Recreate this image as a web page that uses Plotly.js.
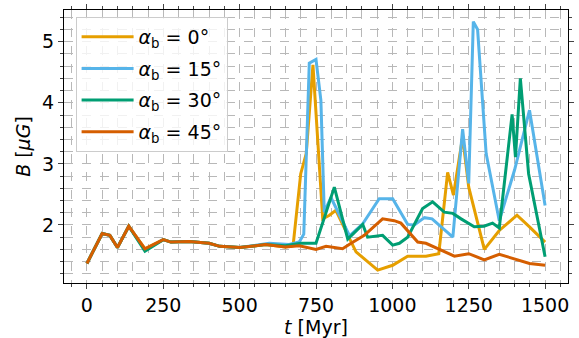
<!DOCTYPE html>
<html><head><meta charset="utf-8">
<script src="https://cdn.plot.ly/plotly-3.0.1.min.js"></script>
<style>html,body{margin:0;padding:0;background:#fff}#chart{width:579px;height:338px}</style>
</head><body><div id="chart"></div>
<script>
const t0 = [0,50,75,100,137,190,250,275,335,400,435,500,585,650,675,700,718,740,772,794,815,881,952,1001,1050,1110,1152,1181,1200,1230,1250,1301,1350,1408,1449,1500];
const b0 = [1.37,1.86,1.83,1.63,1.98,1.61,1.76,1.72,1.73,1.70,1.65,1.63,1.68,1.64,1.66,2.84,3.17,4.62,2.10,2.16,2.24,1.56,1.26,1.34,1.49,1.49,1.53,2.86,2.49,3.44,2.62,1.60,1.91,2.16,1.97,1.72];
const t15 = [0,50,75,100,137,190,250,275,335,400,435,500,597,662,695,710,728,750,766,777,799,860,903,957,1001,1050,1072,1105,1130,1198,1230,1250,1265,1279,1307,1350,1400,1425,1449,1500];
const b15 = [1.37,1.86,1.83,1.63,1.98,1.59,1.76,1.72,1.73,1.70,1.65,1.63,1.70,1.68,1.72,1.85,4.65,4.71,4.04,2.21,2.45,1.82,2.02,2.43,2.43,2.01,2.00,2.12,2.10,1.80,3.57,2.68,5.33,5.20,3.17,2.07,2.90,3.40,3.88,2.32];
const t30 = [0,50,75,100,137,190,250,275,335,400,435,500,585,650,700,750,810,854,903,919,968,1001,1023,1050,1099,1132,1170,1198,1225,1268,1300,1328,1350,1392,1403,1419,1446,1500];
const b30 = [1.37,1.86,1.83,1.63,1.98,1.57,1.76,1.72,1.73,1.70,1.65,1.63,1.68,1.66,1.70,1.70,2.62,1.77,2.01,1.80,1.83,1.67,1.70,1.80,2.27,2.38,2.21,2.19,2.10,1.97,1.98,2.03,1.95,3.81,3.11,4.40,2.84,1.48];
const t45 = [0,50,75,100,137,190,250,275,335,400,435,500,585,650,695,750,783,837,865,908,968,1006,1028,1083,1110,1159,1203,1250,1301,1350,1405,1449,1500];
const b45 = [1.37,1.86,1.83,1.63,1.98,1.61,1.76,1.72,1.73,1.70,1.65,1.63,1.68,1.64,1.66,1.60,1.65,1.61,1.70,1.83,2.10,2.07,2.03,1.72,1.70,1.59,1.49,1.53,1.43,1.52,1.44,1.37,1.34];
const names = ['<i>α</i><sub>b</sub> = 0°','<i>α</i><sub>b</sub> = 15°','<i>α</i><sub>b</sub> = 30°','<i>α</i><sub>b</sub> = 45°'];
const colors = ['#E69F00','#56B4E9','#009E73','#D55E00'];
const xs = [t0,t15,t30,t45], ys = [b0,b15,b30,b45];
const data = xs.map((x,i)=>({x:x,y:ys[i],type:'scatter',mode:'lines',name:names[i],legendgroup:'g'+i,line:{color:colors[i],width:3}}));
const grid = {showgrid:true,gridcolor:'#b8b8b8',griddash:'dash',gridwidth:1};
const layout = {
  width:579,height:338,
  margin:{l:64,r:11,t:10,b:55},
  paper_bgcolor:'#fff',plot_bgcolor:'#fff',
  font:{family:'DejaVu Sans',size:19,color:'#000'},
  showlegend:true,
  legend:{x:0.023,y:0.975,xanchor:'left',yanchor:'top',bgcolor:'rgba(255,255,255,0.8)',bordercolor:'#cccccc',borderwidth:1,font:{size:19},tracegroupgap:4,itemwidth:52},
  xaxis:Object.assign({range:[-75,1575],tickvals:[0,250,500,750,1000,1250,1500],ticks:'outside',ticklen:5,tickwidth:1,
    showline:true,linecolor:'#000',linewidth:1,mirror:'ticks',zeroline:false,
    minor:{dtick:50,tick0:0,ticks:'outside',ticklen:3,showgrid:true,gridcolor:'#b8b8b8',griddash:'dash'},
    title:{text:'<i>t</i> [Myr]',font:{size:19},standoff:0}},grid),
  yaxis:Object.assign({range:[1.05,5.52],tickvals:[2,3,4,5],ticks:'outside',ticklen:5,tickwidth:1,
    showline:true,linecolor:'#000',linewidth:1,mirror:'ticks',zeroline:false,
    minor:{dtick:0.2,tick0:0,ticks:'outside',ticklen:3,showgrid:true,gridcolor:'#b8b8b8',griddash:'dash'},
    title:{text:'<i>B</i> [<i>μG</i>]',font:{size:19},standoff:6}},grid)
};
Plotly.newPlot('chart',data,layout,{displayModeBar:false,staticPlot:true});
</script></body></html>
